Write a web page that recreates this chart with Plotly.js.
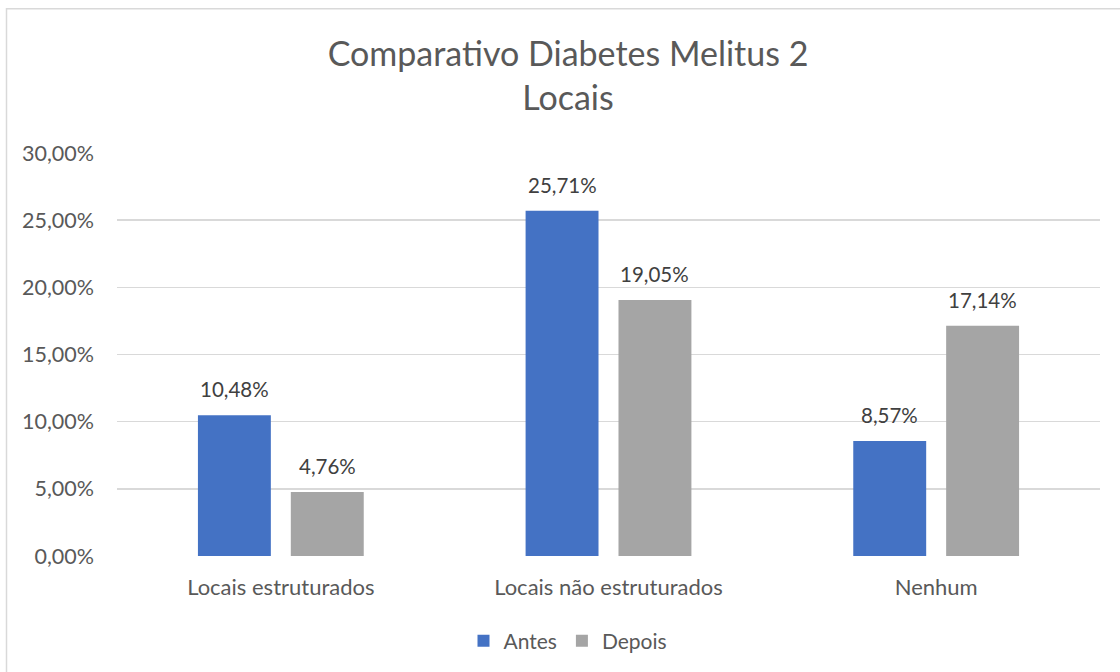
<!DOCTYPE html>
<html>
<head>
<meta charset="utf-8">
<script src="https://cdn.plot.ly/plotly-3.0.1.min.js"></script>
<style>
  html, body { margin: 0; padding: 0; background: #ffffff; overflow: hidden; }
  #chart { width: 1120px; height: 672px; }
</style>
</head>
<body>
<div id="chart"></div>
<script>
// Share of patients by location, before and after
const categories = ['Locais estruturados', 'Locais não estruturados', 'Nenhum'];
const antes = [0.1048, 0.2571, 0.0857];
const depois = [0.0476, 0.1905, 0.1714];
const seriesNames = ['Antes', 'Depois'];
const yTicks = [0, 0.05, 0.10, 0.15, 0.20, 0.25, 0.30];

const FONT = 'Lato, "Open Sans", sans-serif';
const AXIS_GREY = '#595959';
const LABEL_GREY = '#404040';

const W = 1120, H = 672;
const M = { l: 117, r: 20, t: 153, b: 115 };
const PW = W - M.l - M.r, PH = H - M.t - M.b;

const traces = [
  { type: 'bar', name: seriesNames[0], x: categories, y: antes,
    marker: { color: '#4472C4' }, hoverinfo: 'skip' },
  { type: 'bar', name: seriesNames[1], x: categories, y: depois,
    marker: { color: '#A5A5A5' }, hoverinfo: 'skip' }
];

// value labels above each bar, offset to the slot of its series
const slot = PW / categories.length * (1 - 0.433) / 2;
const fmt = v => (v * 100).toFixed(2).replace('.', ',') + '%';
const annotations = [];
[antes, depois].forEach((vals, s) => {
  vals.forEach((v, i) => {
    annotations.push({
      x: categories[i], y: v, xref: 'x', yref: 'y',
      text: fmt(v), showarrow: false,
      xshift: (s === 0 ? -1 : 1) * slot / 2, yshift: 26,
      yanchor: 'middle',
      font: { family: FONT, size: 20.5, color: LABEL_GREY }
    });
  });
});

const px = x => (x - M.l) / PW;
const py = y => (H - M.b - y) / PH;

const layout = {
  width: W, height: H,
  margin: M,
  paper_bgcolor: '#ffffff', plot_bgcolor: '#ffffff',
  separators: ',.',
  font: { family: FONT, color: AXIS_GREY },
  title: {
    text: 'Comparativo Diabetes Melitus 2<br>Locais',
    font: { family: FONT, size: 34, color: AXIS_GREY },
    x: px(568), xref: 'paper', xanchor: 'center',
    y: 1 - 66 / H, yanchor: 'top', yref: 'container'
  },
  barmode: 'group', bargap: 0.433, bargroupgap: 0.215,
  xaxis: {
    type: 'category', showgrid: false, zeroline: false, showline: false,
    ticks: '', tickfont: { family: FONT, size: 22, color: AXIS_GREY },
    ticklabelstandoff: 16
  },
  yaxis: {
    range: [0, 0.30], tickvals: yTicks, tickformat: '.2%',
    showgrid: true, gridcolor: '#D9D9D9', gridwidth: 1.5,
    zeroline: false, showline: false, ticks: '',
    tickfont: { family: FONT, size: 21.5, color: AXIS_GREY },
    ticklabelstandoff: 22
  },
  showlegend: true,
  legend: {
    orientation: 'h', x: px(568), xanchor: 'center', y: py(641), yanchor: 'middle',
    font: { family: FONT, size: 21, color: AXIS_GREY },
    itemwidth: 30, traceorder: 'normal'
  },
  annotations: annotations,
  shapes: [{
    type: 'rect', xref: 'paper', yref: 'paper',
    x0: px(6.5), x1: px(1140), y0: py(690), y1: py(8.5),
    line: { color: '#D9D9D9', width: 1.5 }, fillcolor: 'rgba(0,0,0,0)', layer: 'below'
  }]
};

Plotly.newPlot('chart', traces, layout, { displayModeBar: false, staticPlot: true });
</script>
</body>
</html>
